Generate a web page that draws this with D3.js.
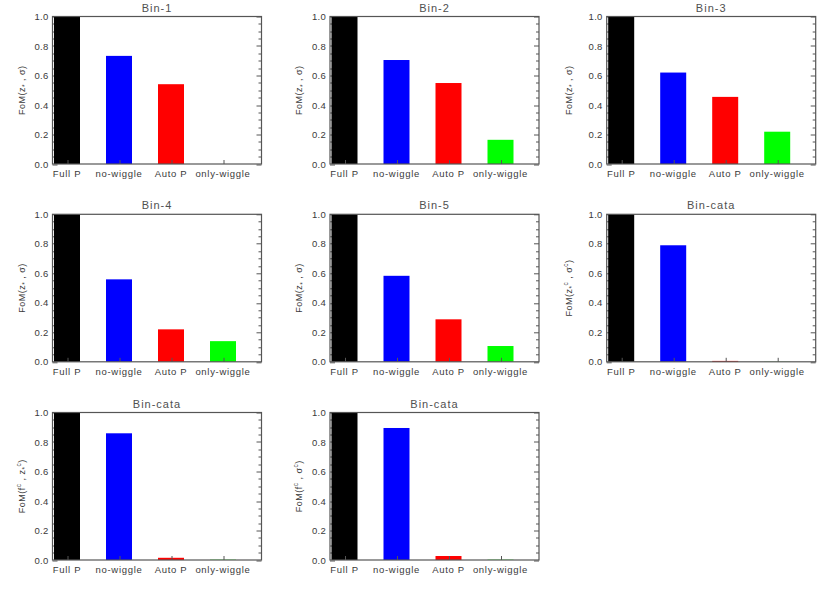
<!DOCTYPE html>
<html>
<head>
<meta charset="utf-8">
<script src="https://cdn.jsdelivr.net/npm/d3@7"></script>
<style>
  html, body { margin: 0; padding: 0; background: #fff; }
  svg { display: block; }
  text { font-family: "Liberation Sans", Arial, Helvetica, sans-serif; fill: #3a3a3a; }
  text.title { fill: #505050; }
</style>
</head>
<body>
<svg id="chart" width="830" height="593"></svg>
<script>
// ---- data ----
const categories = ["Full P", "no-wiggle", "Auto P", "only-wiggle"];
const barColors = ["#000000", "#0000ff", "#ff0000", "#00ff00"];
const titles = ["Bin-1", "Bin-2", "Bin-3", "Bin-4", "Bin-5", "Bin-cata", "Bin-cata", "Bin-cata"];
const fullP      = [1.0, 1.0, 1.0, 1.0, 1.0, 1.0, 1.0, 1.0];
const noWiggle   = [0.733, 0.705, 0.620, 0.559, 0.583, 0.790, 0.859, 0.895];
const autoP      = [0.541, 0.549, 0.455, 0.220, 0.288, 0.006, 0.015, 0.027];
const onlyWiggle = [0.000, 0.164, 0.219, 0.140, 0.107, 0.001, 0.002, 0.002];
const yTickValues = [0.0, 0.2, 0.4, 0.6, 0.8, 1.0];
const yMinorStep = 0.05;
// y-axis labels as segments: [text, kind] kind: "n" normal, "b" subscript, "p" superscript
const yLabels = [
  [["FoM(z","n"],["*","b"],[" , σ)","n"]],
  [["FoM(z","n"],["*","b"],[" , σ)","n"]],
  [["FoM(z","n"],["*","b"],[" , σ)","n"]],
  [["FoM(z","n"],["*","b"],[" , σ)","n"]],
  [["FoM(z","n"],["*","b"],[" , σ)","n"]],
  [["FoM(z","n"],["*","b"],["c","p"],[" , σ","n"],["c","p"],[")","n"]],
  [["FoM(f","n"],["c","p"],[" , z","n"],["*","b"],["c","p"],[")","n"]],
  [["FoM(f","n"],["c","p"],[" , σ","n"],["c","p"],[")","n"]]
];

// ---- layout ----
const colLefts = [52.5, 330, 606.7];
const rowTops = [16.5, 214.3, 412.5];
const W = 209, H = 147.5;
const labelOffsets = [-28, -28, -35];
const axisColor = "#555";

const svg = d3.select("#chart");

const series = [fullP, noWiggle, autoP, onlyWiggle];

titles.forEach((title, i) => {
  const col = i % 3, row = Math.floor(i / 3);
  const L = colLefts[col], T = rowTops[row];
  const g = svg.append("g").attr("transform", `translate(${L},${T})`);

  const x = d3.scaleBand().domain(categories)
    .range([1.5, 1.5 + 4 * 52])
    .paddingInner(0.5).paddingOuter(0.25).align(0);
  const y = d3.scaleLinear().domain([0, 1]).range([H, 0]);

  const vals = categories.map((c, k) => ({ cat: c, v: series[k][i], color: barColors[k] }));

  // minor & major ticks (inward) on left and right
  const minor = d3.range(0, 1.0001, yMinorStep).filter(v => !yTickValues.some(t => Math.abs(t - v) < 1e-6));
  const tickG = g.append("g").attr("stroke", axisColor).attr("stroke-width", 1);
  minor.forEach(v => {
    const yy = Math.round(y(v)) + 0.5;
    tickG.append("line").attr("x1", 0).attr("x2", 3).attr("y1", yy).attr("y2", yy);
    tickG.append("line").attr("x1", W - 3).attr("x2", W).attr("y1", yy).attr("y2", yy);
  });
  yTickValues.forEach(v => {
    const yy = Math.round(y(v)) + 0.5;
    tickG.append("line").attr("x1", 0).attr("x2", 5).attr("y1", yy).attr("y2", yy);
    tickG.append("line").attr("x1", W - 5).attr("x2", W).attr("y1", yy).attr("y2", yy);
  });

  // bars
  g.selectAll("rect.bar").data(vals).enter().append("rect")
    .attr("class", "bar")
    .attr("x", d => x(d.cat))
    .attr("width", x.bandwidth())
    .attr("y", d => y(d.v))
    .attr("height", d => Math.max(0, H - y(d.v)))
    .attr("fill", d => d.color);

  // bottom ticks at bar centres
  categories.forEach(c => {
    const xx = Math.round(x(c) + x.bandwidth() / 2) + 0.5;
    g.append("line").attr("x1", xx).attr("x2", xx).attr("y1", H).attr("y2", H - 4)
      .attr("stroke", axisColor).attr("stroke-width", 1);
  });

  // frame
  g.append("rect").attr("x", 0).attr("y", 0).attr("width", W).attr("height", H)
    .attr("fill", "none").attr("stroke", axisColor).attr("stroke-width", 1.2);

  // y tick labels
  g.selectAll("text.ytl").data(yTickValues).enter().append("text")
    .attr("class", "ytl")
    .attr("x", -4).attr("y", d => y(d) + 3.5)
    .attr("text-anchor", "end")
    .attr("font-size", 9.5)
    .attr("letter-spacing", 0.3)
    .text(d => d3.format(".1f")(d));

  // x labels
  g.selectAll("text.xtl").data(categories).enter().append("text")
    .attr("class", "xtl")
    .attr("x", d => x(d) + x.bandwidth() / 2)
    .attr("y", H + 13)
    .attr("text-anchor", "middle")
    .attr("font-size", 9.5)
    .attr("letter-spacing", 0.7)
    .text(d => d);

  // title
  g.append("text").attr("class", "title").attr("x", W / 2).attr("y", -5)
    .attr("text-anchor", "middle").attr("font-size", 11)
    .attr("letter-spacing", 1)
    .text(title);

  // y label
  const yl = g.append("text")
    .attr("transform", `translate(${labelOffsets[col]},${H / 2}) rotate(-90)`)
    .attr("text-anchor", "middle")
    .attr("font-size", 9)
    .attr("letter-spacing", 0.5);
  let shift = 0;
  yLabels[i].forEach(([t, kind]) => {
    const target = kind === "b" ? 2.5 : (kind === "p" ? -4 : 0);
    const ts = yl.append("tspan").text(t).attr("dy", target - shift);
    if (kind !== "n") ts.attr("font-size", 6.5);
    shift = target;
  });
});
</script>
</body>
</html>
